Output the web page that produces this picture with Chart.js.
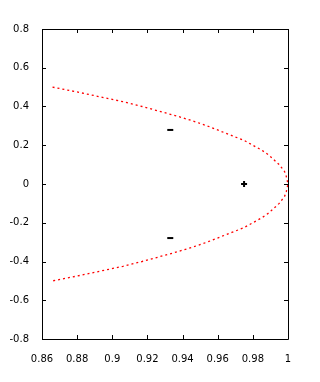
<!DOCTYPE html>
<html>
<head>
<meta charset="utf-8">
<script src="https://cdn.jsdelivr.net/npm/chart.js@4"></script>
<style>
  html, body { margin: 0; padding: 0; background: #fff; }
  #wrap { width: 320px; height: 382px; }
</style>
</head>
<body>
<div id="wrap"><canvas id="chart" width="320" height="382"></canvas></div>
<script>
// curva roja
const arcX = [0.866, 0.880, 0.893, 0.906, 0.917, 0.927, 0.937, 0.946, 0.954, 0.961, 0.968, 0.975, 0.980, 0.985, 0.989, 0.992, 0.995, 0.998, 0.999, 1.000,
              0.999, 0.998, 0.995, 0.992, 0.989, 0.985, 0.980, 0.975, 0.968, 0.961, 0.954, 0.946, 0.937, 0.927, 0.917, 0.906, 0.893, 0.880, 0.866];
const arcY = [0.50, 0.475, 0.45, 0.425, 0.40, 0.375, 0.35, 0.325, 0.30, 0.275, 0.25, 0.225, 0.20, 0.175, 0.15, 0.125, 0.10, 0.065, 0.04, 0.0,
              -0.04, -0.065, -0.10, -0.125, -0.15, -0.175, -0.20, -0.225, -0.25, -0.275, -0.30, -0.325, -0.35, -0.375, -0.40, -0.425, -0.45, -0.475, -0.50];
// puntos negros
const ptX = [0.933, 0.975, 0.933];
const ptY = [0.279, 0.0, -0.279];
const ptStyle = ['line', 'cross', 'line'];

const xMin = 0.86, xMax = 1.0, xStep = 0.02;
const yMin = -0.8, yMax = 0.8, yStep = 0.2;

const fmt = v => String(Number(v.toFixed(2)));

// marco y ticks hacia adentro, estilo gnuplot
const marco = {
  id: 'marco',
  afterDraw(chart) {
    const { ctx, chartArea: a, scales } = chart;
    ctx.save();
    ctx.strokeStyle = '#000';
    ctx.lineWidth = 1;
    ctx.beginPath();
    ctx.rect(Math.round(a.left) + 0.5, Math.round(a.top) + 0.5, Math.round(a.right - a.left), Math.round(a.bottom - a.top));
    scales.x.ticks.forEach(t => {
      const px = Math.round(scales.x.getPixelForValue(t.value)) + 0.5;
      ctx.moveTo(px, a.bottom); ctx.lineTo(px, a.bottom - 4);
      ctx.moveTo(px, a.top); ctx.lineTo(px, a.top + 4);
    });
    scales.y.ticks.forEach(t => {
      const py = Math.round(scales.y.getPixelForValue(t.value)) + 0.5;
      ctx.moveTo(a.left, py); ctx.lineTo(a.left + 4, py);
      ctx.moveTo(a.right, py); ctx.lineTo(a.right - 4, py);
    });
    ctx.stroke();
    ctx.restore();
  }
};

new Chart(document.getElementById('chart').getContext('2d'), {
  type: 'scatter',
  data: {
    datasets: [
      {
        data: arcX.map((x, i) => ({ x: x, y: arcY[i] })),
        showLine: true,
        borderColor: '#ff0000',
        borderWidth: 1.3,
        borderDash: [2, 3],
        pointRadius: 0,
        tension: 0
      },
      {
        data: ptX.map((x, i) => ({ x: x, y: ptY[i] })),
        pointStyle: ptStyle,
        pointRadius: 3,
        borderColor: '#000',
        backgroundColor: '#000',
        pointBorderWidth: 2
      }
    ]
  },
  plugins: [marco],
  options: {
    responsive: false,
    animation: false,
    layout: { padding: { top: 29, right: 32, left: 0, bottom: 0 } },
    plugins: { legend: { display: false }, tooltip: { enabled: false } },
    scales: {
      x: {
        type: 'linear', min: xMin, max: xMax,
        grid: { display: false }, border: { display: false },
        afterFit: s => { s.height = 43; },
        ticks: { stepSize: xStep, padding: 6, color: '#000', maxRotation: 0,
                 font: { family: 'DejaVu Sans', size: 10 }, callback: fmt }
      },
      y: {
        type: 'linear', min: yMin, max: yMax,
        grid: { display: false }, border: { display: false },
        afterFit: s => { s.width = 42; },
        ticks: { stepSize: yStep, padding: 5, color: '#000',
                 font: { family: 'DejaVu Sans', size: 10 }, callback: fmt }
      }
    }
  }
});
</script>
</body>
</html>
